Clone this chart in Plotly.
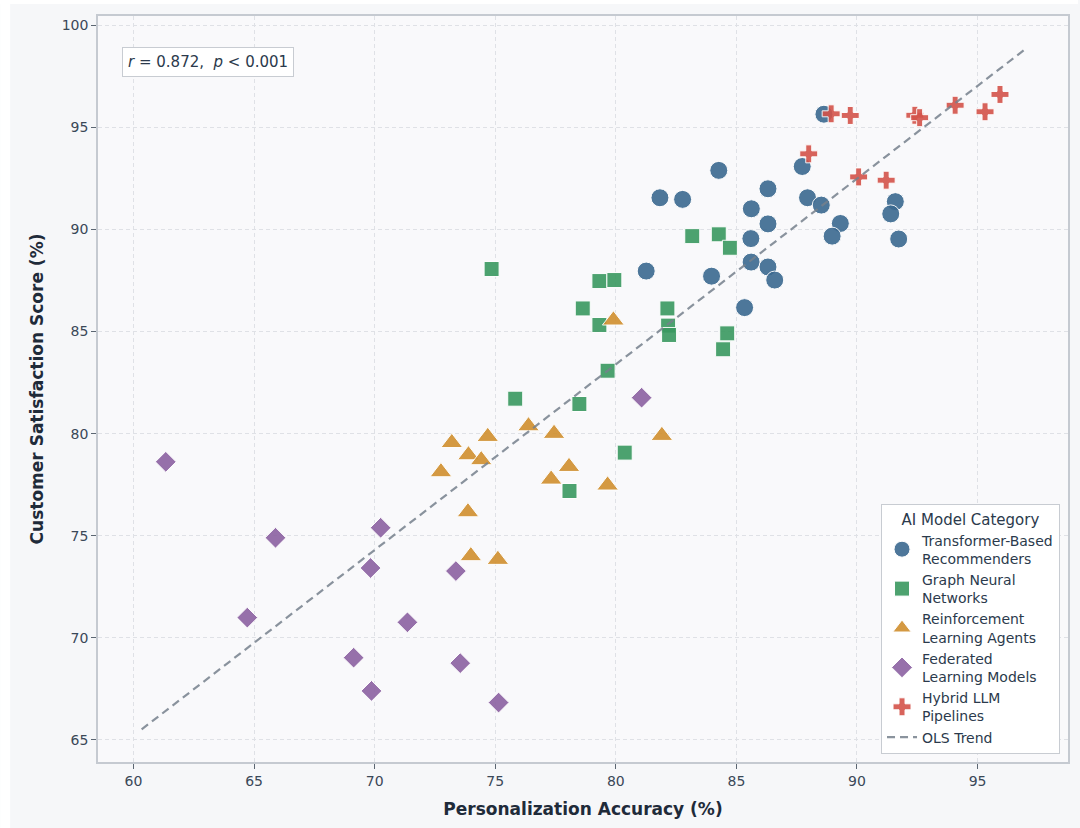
import numpy as np
import plotly.graph_objects as go

# Personalization accuracy (x) vs customer satisfaction (y), per model category
transformer_x = [88.63, 84.27, 81.83, 82.77, 86.31, 87.73, 87.95, 88.52, 85.62, 86.31, 89.31,
                 88.97, 85.60, 81.26, 83.97, 85.61, 86.31, 86.59, 85.34, 91.59, 91.40, 91.73]
transformer_y = [95.64, 92.89, 91.55, 91.47, 91.99, 93.08, 91.55, 91.19, 91.01, 90.27, 90.29,
                 89.67, 89.55, 87.96, 87.71, 88.40, 88.16, 87.52, 86.17, 91.36, 90.76, 89.53]

gnn_x = [83.17, 84.27, 84.73, 74.85, 79.32, 79.94, 78.63, 79.32, 82.14, 82.17, 82.21,
         84.62, 84.45, 79.66, 78.49, 75.83, 78.08, 80.37]
gnn_y = [89.67, 89.76, 89.10, 88.06, 87.47, 87.52, 86.13, 85.32, 86.13, 85.29, 84.83,
         84.91, 84.13, 83.08, 81.45, 81.71, 77.19, 79.07]

rl_x = [79.90, 73.20, 74.69, 76.38, 77.44, 73.89, 74.42, 72.75, 78.06, 77.32, 79.66,
        81.91, 73.87, 73.99, 75.11]
rl_y = [85.55, 79.55, 79.85, 80.37, 80.00, 78.95, 78.71, 78.12, 78.38, 77.76, 77.47,
        79.90, 76.16, 74.01, 73.83]

fed_x = [61.34, 65.89, 70.25, 69.83, 73.37, 64.72, 71.36, 69.13, 73.55, 69.87, 75.14, 81.07]
fed_y = [78.62, 74.90, 75.39, 73.42, 73.27, 70.99, 70.76, 69.03, 68.76, 67.40, 66.83, 81.76]

hybrid_x = [88.93, 89.72, 88.00, 90.07, 91.21, 92.40, 92.60, 94.07, 95.31, 95.93]
hybrid_y = [95.66, 95.58, 93.70, 92.57, 92.41, 95.59, 95.47, 96.08, 95.76, 96.61]

categories = [
    "Transformer-Based<br>Recommenders",
    "Graph Neural<br>Networks",
    "Reinforcement<br>Learning Agents",
    "Federated<br>Learning Models",
    "Hybrid LLM<br>Pipelines",
]
series_x = [transformer_x, gnn_x, rl_x, fed_x, hybrid_x]
series_y = [transformer_y, gnn_y, rl_y, fed_y, hybrid_y]
colors = ["#3b6990", "#3a9960", "#d08f2e", "#8c62a2", "#d4534a"]
symbols = ["circle", "square", "triangle-up", "diamond", "cross"]
sizes = [18, 15, 19, 16, 15]

x_ticks = [60, 65, 70, 75, 80, 85, 90, 95]
y_ticks = [65, 70, 75, 80, 85, 90, 95, 100]

FONT = "DejaVu Sans"
TEXT = "#2b3a4c"

fig = go.Figure()

for name, xs, ys, c, s, sz in zip(categories, series_x, series_y, colors, symbols, sizes):
    fig.add_trace(go.Scatter(
        x=xs, y=ys, mode="markers", name=name,
        marker=dict(color=c, symbol=s, size=sz, opacity=0.9,
                    line=dict(color="white", width=1)),
    ))

# Ordinary least squares trend over all points
all_x = np.concatenate([np.asarray(v, float) for v in series_x])
all_y = np.concatenate([np.asarray(v, float) for v in series_y])
slope, intercept = np.polyfit(all_x, all_y, 1)
line_x = np.array([all_x.min() - 1, all_x.max() + 1])
line_y = slope * line_x + intercept
fig.add_trace(go.Scatter(
    x=line_x, y=line_y, mode="lines", name="OLS Trend",
    line=dict(color="rgba(118,128,140,0.85)", width=2.2, dash="8px,5px"),
))

W, H = 1080, 828
ML, MR, MT, MB = 98, 10, 16, 66
pw, ph = W - ML - MR, H - MT - MB

def px_x(px):
    return (px - ML) / pw

def px_y(py):
    return (H - MB - py) / ph

fig.update_layout(
    width=W, height=H,
    margin=dict(l=ML, r=MR, t=MT, b=MB),
    paper_bgcolor="#f6f7f9",
    plot_bgcolor="#f9f9fb",
    font=dict(family=FONT, color=TEXT, size=14),
    showlegend=True,
    legend=dict(
        title=dict(text="AI Model Category", side="top center",
                   font=dict(family=FONT, size=15, color=TEXT)),
        font=dict(family=FONT, size=14, color=TEXT),
        bgcolor="white", bordercolor="#c8ccd2", borderwidth=1,
        x=px_x(1062), xanchor="right", y=px_y(754), yanchor="bottom",
        itemsizing="trace", tracegroupgap=2,
    ),
    shapes=[
        dict(type="rect", xref="paper", yref="paper", layer="above",
             x0=px_x(0), x1=px_x(10), y0=px_y(H), y1=px_y(0),
             fillcolor="white", line=dict(width=0)),
        dict(type="rect", xref="paper", yref="paper", layer="above",
             x0=px_x(0), x1=px_x(W), y0=px_y(4), y1=px_y(0),
             fillcolor="white", line=dict(width=0)),
    ],
    annotations=[
        dict(text="<i>r</i> = 0.872,\u00a0\u00a0<i>p</i> &lt; 0.001",
             xref="paper", yref="paper", x=px_x(122), y=px_y(47),
             xanchor="left", yanchor="top", showarrow=False,
             font=dict(family=FONT, size=15, color=TEXT),
             bgcolor="white", bordercolor="#c8ccd2", borderwidth=1, borderpad=5),
    ],
)

axis_common = dict(
    showline=True, mirror=True, linecolor="#c5cad1", linewidth=1.5,
    showgrid=True, gridcolor="#dfe1e6", gridwidth=1, griddash="4px,3px",
    zeroline=False, ticks="outside", ticklen=5, tickwidth=1, tickcolor="#5b6672",
    tickfont=dict(family=FONT, size=14, color="#3a4858"),
)

fig.update_xaxes(
    range=[58.53, 98.75], tickvals=x_ticks,
    title=dict(text="<b>Personalization Accuracy (%)</b>", standoff=16,
               font=dict(family=FONT, size=17, color="#1f2b3a")),
    **axis_common,
)
fig.update_yaxes(
    range=[63.92, 100.45], tickvals=y_ticks,
    title=dict(text="<b>Customer Satisfaction Score (%)</b>", standoff=14,
               font=dict(family=FONT, size=17, color="#1f2b3a")),
    **axis_common,
)

fig.write_html("out.html")
